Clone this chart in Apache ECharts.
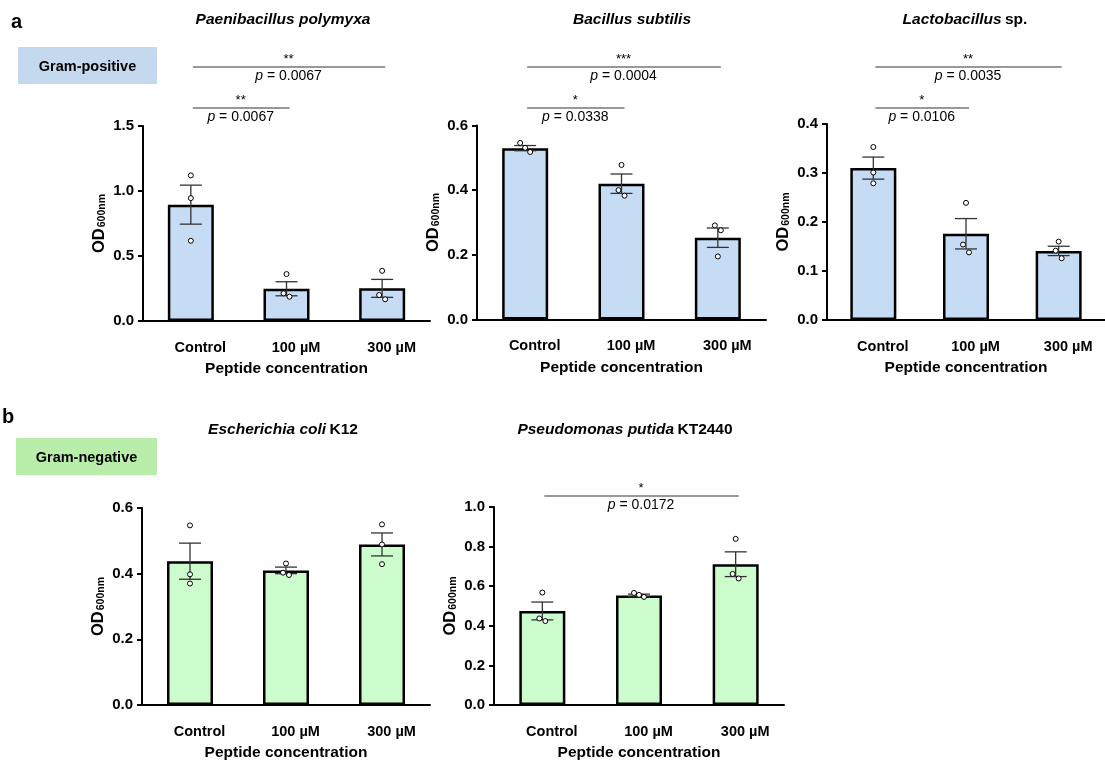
<!DOCTYPE html>
<html>
<head>
<meta charset="utf-8">
<script src="https://cdn.jsdelivr.net/npm/echarts@6/dist/echarts.min.js"></script>
<style>
  html, body { margin: 0; padding: 0; background: #ffffff; }
  #chart { width: 1105px; height: 762px; }
</style>
</head>
<body>
<div id="chart"></div>
<script>
// Treatment groups shared by every panel
const categories = ['Control', '100 µM', '300 µM'];

// Paenibacillus polymyxa – mean OD600, SEM and replicates
const paeniMean = [0.895, 0.248, 0.251];
const paeniSem = [0.150, 0.054, 0.069];
const paeniPoints = [[1.12, 0.945, 0.617], [0.361, 0.213, 0.187], [0.386, 0.200, 0.167]];
const paeniSig = [
  { from: 0, to: 2, stars: '**', p: '0.0067', level: 'upper' },
  { from: 0, to: 1, stars: '**', p: '0.0067', level: 'lower' }
];

// Bacillus subtilis
const subtilisMean = [0.530, 0.420, 0.253];
const subtilisSem = [0.008, 0.030, 0.030];
const subtilisPoints = [[0.546, 0.531, 0.518], [0.478, 0.400, 0.383], [0.291, 0.276, 0.195]];
const subtilisSig = [
  { from: 0, to: 2, stars: '***', p: '0.0004', level: 'upper' },
  { from: 0, to: 1, stars: '*', p: '0.0338', level: 'lower' }
];

// Lactobacillus sp.
const lactoMean = [0.310, 0.176, 0.141];
const lactoSem = [0.0225, 0.031, 0.0095];
const lactoPoints = [[0.353, 0.301, 0.279], [0.239, 0.154, 0.138], [0.160, 0.1415, 0.126]];
const lactoSig = [
  { from: 0, to: 2, stars: '**', p: '0.0035', level: 'upper' },
  { from: 0, to: 1, stars: '*', p: '0.0106', level: 'lower' }
];

// Escherichia coli K12
const coliMean = [0.438, 0.410, 0.489];
const coliSem = [0.055, 0.010, 0.035];
const coliPoints = [[0.547, 0.398, 0.370], [0.431, 0.403, 0.396], [0.550, 0.489, 0.429]];
const coliSig = [];

// Pseudomonas putida KT2440
const putidaMean = [0.475, 0.553, 0.711];
const putidaSem = [0.045, 0.007, 0.0625];
const putidaPoints = [[0.568, 0.437, 0.424], [0.566, 0.556, 0.546], [0.839, 0.662, 0.639]];
const putidaSig = [
  { from: 0, to: 2, stars: '*', p: '0.0172', level: 'upper' }
];

// Y-axis ranges (max, tick interval) per panel
const paeniTicks = [1.5, 0.5];
const subtilisTicks = [0.6, 0.2];
const lactoTicks = [0.4, 0.1];
const coliTicks = [0.6, 0.2];
const putidaTicks = [1.0, 0.2];

const BLUE = '#c6dbf4';
const GREEN = '#ccfccc';
const FONT = '"Liberation Sans", Arial, Helvetica, sans-serif';

const panels = [
  { name: 'paeni', title: '{i|Paenibacillus polymyxa}', titleX: 283, titleY: 20,
    mean: paeniMean, sem: paeniSem, points: paeniPoints, sig: paeniSig, ticks: paeniTicks,
    color: BLUE, grid: { left: 143, top: 126, width: 287, height: 195 }, sigY: [67, 108] },
  { name: 'subtilis', title: '{i|Bacillus subtilis}', titleX: 632, titleY: 20,
    mean: subtilisMean, sem: subtilisSem, points: subtilisPoints, sig: subtilisSig, ticks: subtilisTicks,
    color: BLUE, grid: { left: 477, top: 125.5, width: 289, height: 194 }, sigY: [67, 108] },
  { name: 'lacto', title: '{i|Lactobacillus} {n|sp.}', titleX: 965, titleY: 20,
    mean: lactoMean, sem: lactoSem, points: lactoPoints, sig: lactoSig, ticks: lactoTicks,
    color: BLUE, grid: { left: 827, top: 124, width: 286, height: 196 }, sigY: [67, 108] },
  { name: 'coli', title: '{i|Escherichia coli} {n|K12}', titleX: 283, titleY: 430,
    mean: coliMean, sem: coliSem, points: coliPoints, sig: coliSig, ticks: coliTicks,
    color: GREEN, grid: { left: 142, top: 508, width: 288, height: 197 }, sigY: [496, 496] },
  { name: 'putida', title: '{i|Pseudomonas putida} {n|KT2440}', titleX: 625, titleY: 430,
    mean: putidaMean, sem: putidaSem, points: putidaPoints, sig: putidaSig, ticks: putidaTicks,
    color: GREEN, grid: { left: 494, top: 507, width: 290, height: 198 }, sigY: [496, 496] }
];

const axisBlack = { color: '#000000', width: 2 };

const grids = [], xAxes = [], yAxes = [], series = [];

panels.forEach((pn, gi) => {
  grids.push(Object.assign({ containLabel: false }, pn.grid));

  xAxes.push({
    type: 'category', gridIndex: gi, data: categories,
    axisLine: { lineStyle: axisBlack },
    axisTick: { alignWithLabel: true, length: 6, lineStyle: axisBlack },
    axisLabel: { color: '#000', fontFamily: FONT, fontWeight: 'bold', fontSize: 14.5, margin: 19,
                 padding: [0, 0, 0, 19] },
    name: 'Peptide concentration', nameLocation: 'middle', nameGap: 40,
    nameTextStyle: { color: '#000', fontFamily: FONT, fontWeight: 'bold', fontSize: 15.5 }
  });

  yAxes.push({
    type: 'value', gridIndex: gi, min: 0, max: pn.ticks[0], interval: pn.ticks[1],
    splitLine: { show: false },
    axisLine: { show: true, lineStyle: axisBlack },
    axisTick: { show: true, length: 5, lineStyle: axisBlack },
    axisLabel: { color: '#000', fontFamily: FONT, fontWeight: 'bold', fontSize: 15, margin: 9,
                 formatter: v => v.toFixed(1) },
    name: '{a|OD}{b|600nm}', nameLocation: 'middle', nameGap: 35, nameRotate: 90,
    nameTextStyle: {
      color: '#000',
      rich: {
        a: { fontFamily: FONT, fontWeight: 'bold', fontSize: 16.5, color: '#000', lineHeight: 18 },
        b: { fontFamily: FONT, fontWeight: 'bold', fontSize: 10.5, color: '#000', lineHeight: 18,
             verticalAlign: 'bottom', padding: [6, 0, 0, 1] }
      }
    }
  });

  // Bars: group means
  series.push({
    type: 'bar', xAxisIndex: gi, yAxisIndex: gi, data: pn.mean, barWidth: 46, z: 2,
    itemStyle: { color: pn.color, borderColor: '#000', borderWidth: 2.5 },
    silent: true
  });

  // Error bars: mean ± SEM
  series.push({
    type: 'custom', xAxisIndex: gi, yAxisIndex: gi, z: 4, silent: true,
    data: pn.mean.map((m, i) => [i, m - pn.sem[i], m + pn.sem[i]]),
    renderItem: (params, api) => {
      const lo = api.coord([api.value(0), api.value(1)]);
      const hi = api.coord([api.value(0), api.value(2)]);
      const x = lo[0], w = 11;
      const st = { stroke: '#333333', lineWidth: 1.3 };
      return { type: 'group', children: [
        { type: 'line', shape: { x1: x, y1: lo[1], x2: x, y2: hi[1] }, style: st },
        { type: 'line', shape: { x1: x - w, y1: hi[1], x2: x + w, y2: hi[1] }, style: st },
        { type: 'line', shape: { x1: x - w, y1: lo[1], x2: x + w, y2: lo[1] }, style: st }
      ] };
    }
  });

  // Individual replicates; close neighbours are spread sideways a little
  const pts = [];
  pn.points.forEach((vals, ci) => {
    const near = vals.map((v, k) => vals.some((o, j) => j !== k && Math.abs(o - v) < pn.ticks[0] * 0.04));
    const crowd = vals.map((v, k) => k).filter(k => near[k]);
    vals.forEach((v, k) => {
      let side = 0;
      if (near[k]) {
        const pos = crowd.indexOf(k);
        side = crowd.length === 3 ? pos - 1 : (pos === 0 ? -0.6 : 0.6);
      }
      pts.push([ci, v, side]);
    });
  });
  series.push({
    type: 'custom', xAxisIndex: gi, yAxisIndex: gi, z: 6, silent: true,
    data: pts,
    renderItem: (params, api) => {
      const c = api.coord([api.value(0), api.value(1)]);
      return { type: 'circle', shape: { cx: c[0] + api.value(2) * 5, cy: c[1], r: 2.5 },
               style: { fill: '#ffffff', stroke: '#000000', lineWidth: 1 } };
    }
  });
});

const chart = echarts.init(document.getElementById('chart'), null, { renderer: 'canvas' });

const baseGraphics = [
  { type: 'text', x: 11, y: 22, style: { text: 'a', fontFamily: FONT, fontWeight: 'bold', fontSize: 20, fill: '#000', verticalAlign: 'middle' } },
  { type: 'text', x: 2, y: 417, style: { text: 'b', fontFamily: FONT, fontWeight: 'bold', fontSize: 20, fill: '#000', verticalAlign: 'middle' } },
  { type: 'rect', shape: { x: 18, y: 47, width: 139, height: 37 }, style: { fill: '#c5d9ee' } },
  { type: 'text', x: 87.5, y: 67, style: { text: 'Gram-positive', fontFamily: FONT, fontWeight: 'bold', fontSize: 14.5, fill: '#000', align: 'center', verticalAlign: 'middle' } },
  { type: 'rect', shape: { x: 16, y: 438, width: 141, height: 37 }, style: { fill: '#b9eeaa' } },
  { type: 'text', x: 86.5, y: 458, style: { text: 'Gram-negative', fontFamily: FONT, fontWeight: 'bold', fontSize: 14.5, fill: '#000', align: 'center', verticalAlign: 'middle' } }
];

panels.forEach(pn => {
  baseGraphics.push({
    type: 'text', x: pn.titleX, y: pn.titleY,
    style: {
      text: pn.title, align: 'center', verticalAlign: 'middle',
      rich: {
        i: { fontFamily: FONT, fontWeight: 'bold', fontStyle: 'italic', fontSize: 15.5, fill: '#000' },
        n: { fontFamily: FONT, fontWeight: 'bold', fontSize: 15.5, fill: '#000' }
      }
    }
  });
});

chart.setOption({
  animation: false,
  backgroundColor: '#ffffff',
  grid: grids,
  xAxis: xAxes,
  yAxis: yAxes,
  series: series,
  graphic: baseGraphics
});

// Significance brackets placed over the compared groups
const sigGraphics = [];
panels.forEach((pn, gi) => {
  pn.sig.forEach(s => {
    const x1 = chart.convertToPixel({ gridIndex: gi }, [s.from, 0])[0];
    const x2 = chart.convertToPixel({ gridIndex: gi }, [s.to, 0])[0];
    const y = s.level === 'upper' ? pn.sigY[0] : pn.sigY[1];
    sigGraphics.push({ type: 'line', shape: { x1: x1 + 2, y1: y, x2: x2 + 3, y2: y },
                       style: { stroke: '#333333', lineWidth: 1.2 } });
    sigGraphics.push({ type: 'text', x: (x1 + x2) / 2 + 2, y: y - 8,
                       style: { text: s.stars, fontFamily: FONT, fontSize: 13, fill: '#000', align: 'center', verticalAlign: 'middle' } });
    sigGraphics.push({ type: 'text', x: (x1 + x2) / 2 + 2, y: y + 9,
                       style: { text: '{i|p}{n| = ' + s.p + '}', align: 'center', verticalAlign: 'middle',
                                rich: { i: { fontFamily: FONT, fontStyle: 'italic', fontSize: 14, fill: '#000' },
                                        n: { fontFamily: FONT, fontSize: 14, fill: '#000' } } } });
  });
});

chart.setOption({ graphic: baseGraphics.concat(sigGraphics) });
</script>
</body>
</html>
